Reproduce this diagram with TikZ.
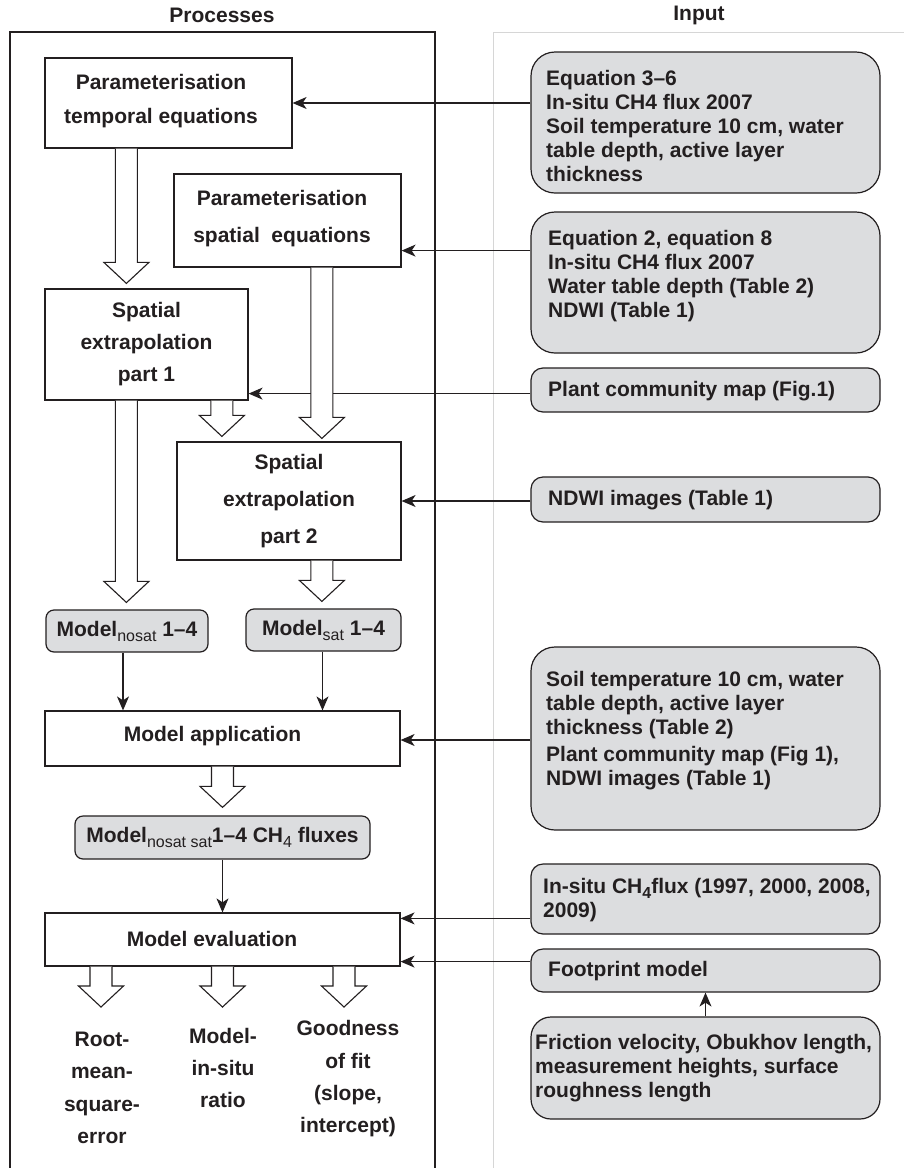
\documentclass[tikz,border=0pt]{standalone}
\usepackage{fontspec}
\setmainfont{Liberation Sans}
\usetikzlibrary{arrows.meta,calc}
\definecolor{ink}{HTML}{231F20}
\definecolor{boxgray}{HTML}{DCDDDF}
\definecolor{framegray}{HTML}{D6D6D6}
\newcommand{\lowsub}[1]{\raisebox{-5pt}{\fontsize{16}{16}\selectfont\mdseries #1}}
\newcommand{\lowsubb}[1]{\raisebox{-5pt}{\fontsize{16}{16}\selectfont #1}}
\begin{document}
\begin{tikzpicture}[x=1pt,y=1pt,
  pbox/.style={draw=ink, line width=1.2pt, fill=white, inner sep=0pt, align=center,
    text=ink, font=\bfseries\fontsize{21}{32}\selectfont},
  gbox/.style={draw=ink, line width=1.2pt, fill=boxgray, inner sep=0pt, align=center,
    text=ink, rounded corners=8pt, font=\bfseries\fontsize{21}{24}\selectfont},
  ibox/.style={draw=ink, line width=1.2pt, fill=boxgray, inner sep=0pt,
    minimum width=349pt},
  ptext/.style={inner sep=0pt, align=center, text=ink},
  itext/.style={inner sep=0pt, align=left, anchor=west, text=ink,
    font=\bfseries\fontsize{21}{24}\selectfont},
  otext/.style={inner sep=0pt, align=center, text=ink,
    font=\bfseries\fontsize{21}{32.3}\selectfont},
  head/.style={inner sep=0pt, text=ink, font=\bfseries\fontsize{21}{24}\selectfont},
  arr/.style={draw=ink, line width=1.1pt, -{Stealth[length=14pt, width=12pt, inset=4pt]}},
  hollow/.style={draw=ink, line width=1.1pt, fill=white, to path={
    let \p1=(\tikztostart), \p2=(\tikztotarget) in
    (\x1-11pt,\y1) -- (\x1-11pt,\y2+21pt) -- (\x1-22.5pt,\y2+21pt) -- (\x1,\y2)
    -- (\x1+22.5pt,\y2+21pt) -- (\x1+11pt,\y2+21pt) -- (\x1+11pt,\y1)}}
]
\useasboundingbox (0,0) rectangle (904,-1168);
\fill[white] (0,0) rectangle (904,-1168);

% frames
\draw[ink, line width=1.1pt] (10,-1172) -- (10,-32) -- (435,-32) -- (435,-1172);
\draw[framegray, line width=1pt] (493.5,-1172) -- (493.5,-32) -- (908,-32);

% headings
\node[head] (hproc) at (222,-15) {Processes};
\node[head] (hin) at (699,-15) {Input};

% process boxes
\node[pbox, minimum width=247pt, minimum height=90pt] (temporal) at (168.5,-103) {};
\node[ptext, font=\bfseries\fontsize{21}{34}\selectfont] (temporalt) at (161,-101) {Parameterisation\\temporal equations};

\node[pbox, minimum width=227pt, minimum height=93pt] (spatialeq) at (287.5,-220.5) {};
\node[ptext, font=\bfseries\fontsize{21}{37}\selectfont] (spatialeqt) at (282,-219) {Parameterisation\\spatial\ \ equations};

\node[pbox, minimum width=203pt, minimum height=111pt, font=\bfseries\fontsize{21}{32}\selectfont] (part1) at (146.5,-344.5) {Spatial\\extrapolation\\part 1};

\node[pbox, minimum width=224pt, minimum height=118pt, font=\bfseries\fontsize{21}{37}\selectfont] (part2) at (289,-501) {Spatial\\extrapolation\\part 2};

\node[gbox, minimum width=162pt, minimum height=42pt] (nosat) at (127,-631) {Model\lowsub{nosat} 1–4};
\node[gbox, minimum width=155pt, minimum height=42pt] (sat) at (323.5,-630) {Model\lowsub{sat} 1–4};

\node[pbox, minimum width=355pt, minimum height=55pt] (modelapp) at (222.5,-738.5) {};
\node[ptext, font=\bfseries\fontsize{21}{24}\selectfont] (modelappt) at (212.5,-736) {Model application};

\node[gbox, minimum width=295pt, minimum height=43pt] (fluxes) at (222.5,-837.5) {Model\lowsub{nosat sat}1–4 CH\lowsub{4} fluxes};

\node[pbox, minimum width=355pt, minimum height=53pt] (eval) at (222.5,-939.5) {};
\node[ptext, font=\bfseries\fontsize{21}{24}\selectfont] (evalt) at (212,-939) {Model evaluation};

% input boxes
\node[ibox, minimum height=141pt, rounded corners=24pt] (in1) at (705.5,-122.5) {};
\node[itext] (in1t) at (546,-126) {Equation 3–6\\In-situ CH4 flux 2007\\Soil temperature 10 cm, water\\table depth, active layer\\thickness};

\node[ibox, minimum height=141pt, rounded corners=24pt] (in2) at (705.5,-282.5) {};
\node[itext] (in2t) at (548,-276) {Equation 2, equation 8\\In-situ CH4 flux 2007\\Water table depth (Table 2)\\NDWI (Table 1)};

\node[ibox, minimum height=44pt, rounded corners=12pt] (in3) at (705.5,-390) {};
\node[itext] (in3t) at (548,-391) {Plant community map (Fig.1)};

\node[ibox, minimum height=45pt, rounded corners=12pt] (in4) at (705.5,-499.5) {};
\node[itext] (in4t) at (548,-500) {NDWI images (Table 1)};

\node[ibox, minimum height=183pt, rounded corners=24pt] (in5) at (705.5,-738.5) {};
\node[itext] (in5t) at (546,-731) {Soil temperature 10 cm, water\\table depth, active layer\\thickness (Table 2)\\[3pt]Plant community map (Fig 1),\\NDWI images (Table 1)};

\node[ibox, minimum height=70pt, rounded corners=12pt] (in6) at (705.5,-899) {};
\node[itext] (in6t) at (543,-900) {In-situ CH\lowsubb{4}flux (1997, 2000, 2008,\\2009)};

\node[ibox, minimum height=43pt, rounded corners=12pt] (foot) at (705.5,-970.5) {};
\node[itext] (foott) at (548,-971) {Footprint model};

\node[ibox, minimum height=102pt, rounded corners=20pt] (fric) at (705.5,-1068) {};
\node[itext] (frict) at (535,-1068) {Friction velocity, Obukhov length,\\measurement heights, surface\\roughness length};

% output texts
\node[otext] (rmse) at (102,-1088) {Root-\\mean-\\square-\\error};
\node[otext] (ratio) at (223,-1068) {Model-\\in-situ\\ratio};
\node[otext] (gof) at (348,-1079) {Goodness\\of fit\\(slope,\\intercept)};

% coordinates
\coordinate (c2) at ($(spatialeq.south east)+(0,17)$);
\coordinate (c3) at ($(part1.south east)+(0,7)$);
\coordinate (c5) at ($(modelapp.east)+(0,-1.5)$);
\coordinate (c6) at ($(eval.north east)+(0,-6)$);
\coordinate (c7) at ($(eval.south east)+(0,5)$);
\coordinate (o1) at (101,-1007);
\coordinate (o2) at (222.5,-1007);
\coordinate (o3) at (344,-1007);

% input arrows
\draw[arr] (in1.west |- temporal.east) -- (temporal.east);
\draw[arr] (in2.west |- c2) -- (c2);
\draw[arr] (in3.west |- c3) -- (c3);
\draw[arr] (in4.west |- part2.east) -- (part2.east);
\draw[arr] (in5.west |- c5) -- (c5);
\draw[arr] (in6.west |- c6) -- (c6);
\draw[arr] (foot.west |- c7) -- (c7);
\draw[arr] (fric.north) -- (foot.south);

% thin process arrows
\draw[arr] ($(nosat.south)+(-4,0)$) -- ($(nosat.south |- modelapp.north)+(-4,0)$);
\draw[arr] ($(sat.south)+(-1,0)$) -- ($(sat.south |- modelapp.north)+(-1,0)$);
\draw[arr] (fluxes.south) -- (eval.north);

% hollow arrows
\draw[hollow] ($(temporal.south west)+(82,0)$) to ($(part1.north west)+(82,5)$);
\draw[hollow] ($(part1.south west)+(82,0)$) to ($(nosat.north west)+(81,7)$);
\draw[hollow] ($(part1.south west)+(177.5,0)$) to ($(part2.north west)+(45.5,5)$);
\draw[hollow] ($(spatialeq.south west)+(148.5,0)$) to ($(part2.north west)+(145.5,3)$);
\draw[hollow] ($(part2.south west)+(145.5,0)$) to ($(sat.north west)+(76.5,7)$);
\draw[hollow] (modelapp.south) to ($(fluxes.north)+(0,8)$);
\draw[hollow] (eval.south -| o1) to (o1);
\draw[hollow] (eval.south -| o2) to (o2);
\draw[hollow] (eval.south -| o3) to (o3);
\end{tikzpicture}
\end{document}
